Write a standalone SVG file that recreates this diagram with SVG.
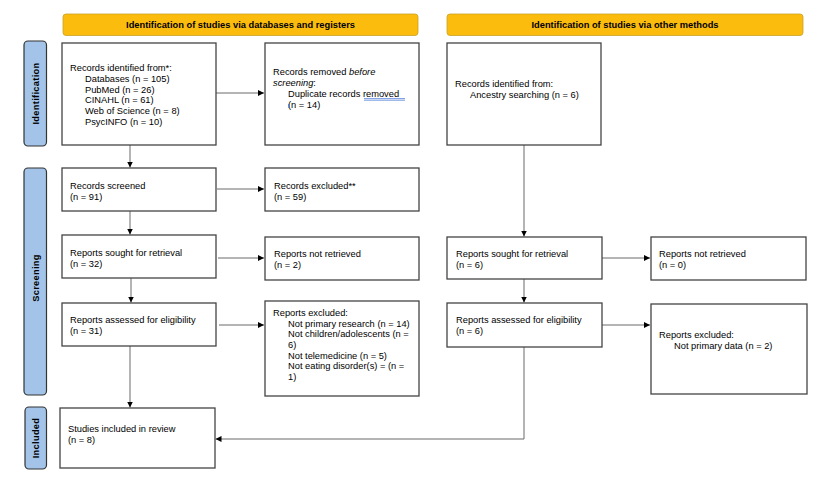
<svg xmlns="http://www.w3.org/2000/svg" width="821" height="487" viewBox="0 0 821 487">
<style>
text{font-family:"Liberation Sans",Arial,sans-serif;font-size:9.3px;fill:#000}
.b{font-weight:bold}
.box{fill:#fff;stroke:#444;stroke-width:1.3}
.ban{fill:#fbbc0d;stroke:#c9a227;stroke-width:0.8}
.side{fill:#a3c4e8;stroke:#333;stroke-width:1.2}
.c{fill:none;stroke:#6a6a6a;stroke-width:1}
</style>
<defs>
<marker id="ah" viewBox="0 0 10 10" refX="10" refY="5" markerWidth="6" markerHeight="6" orient="auto" markerUnits="userSpaceOnUse">
<path d="M0,0 L10,5 L0,10 z" fill="#000"/>
</marker>
</defs>

<g id="banner-db"><rect class="ban" x="63" y="14" width="355" height="21.5" rx="3"/><text class="b" x="240.5" y="28.3" text-anchor="middle">Identification of studies via databases and registers</text></g>
<g id="banner-other"><rect class="ban" x="447" y="14" width="356" height="21.5" rx="3"/><text class="b" x="625" y="28.3" text-anchor="middle">Identification of studies via other methods</text></g>

<g id="side-identification"><rect class="side" x="24" y="41" width="22.5" height="105" rx="4"/><text class="b" transform="translate(38.5,93.5) rotate(-90)" text-anchor="middle" letter-spacing="0.3">Identification</text></g>
<g id="side-screening"><rect class="side" x="24" y="168" width="22.5" height="227" rx="4"/><text class="b" transform="translate(38.5,278) rotate(-90)" text-anchor="middle" letter-spacing="0.3">Screening</text></g>
<g id="side-included"><rect class="side" x="25" y="407" width="21.5" height="62" rx="4"/><text class="b" transform="translate(38.5,438) rotate(-90)" text-anchor="middle" letter-spacing="0.3">Included</text></g>

<g id="connectors">
<line class="c" x1="130" y1="145" x2="130" y2="167.5" marker-end="url(#ah)"/>
<line class="c" x1="216" y1="93" x2="264" y2="93" marker-end="url(#ah)"/>
<line class="c" x1="217" y1="189" x2="264" y2="189" marker-end="url(#ah)"/>
<line class="c" x1="130" y1="211" x2="130" y2="234.5" marker-end="url(#ah)"/>
<line class="c" x1="218" y1="258" x2="264" y2="258" marker-end="url(#ah)"/>
<line class="c" x1="131" y1="278" x2="131" y2="302.5" marker-end="url(#ah)"/>
<line class="c" x1="219" y1="325" x2="264" y2="325" marker-end="url(#ah)"/>
<line class="c" x1="130" y1="346" x2="130" y2="407.5" marker-end="url(#ah)"/>
<line class="c" x1="524" y1="145" x2="524" y2="236.5" marker-end="url(#ah)"/>
<line class="c" x1="602" y1="258" x2="650" y2="258" marker-end="url(#ah)"/>
<line class="c" x1="524" y1="279" x2="524" y2="302.5" marker-end="url(#ah)"/>
<line class="c" x1="602" y1="325" x2="650" y2="325" marker-end="url(#ah)"/>
<polyline class="c" points="524,347 524,439 215.5,439" marker-end="url(#ah)"/>
</g>

<g id="records-identified"><rect class="box" x="62" y="43" width="154" height="102"/>
<text x="70" y="70.5">Records identified from*:</text>
<text x="85" y="81.5">Databases (n = 105)</text>
<text x="85" y="92.5">PubMed (n = 26)</text>
<text x="85" y="103">CINAHL (n = 61)</text>
<text x="85" y="114">Web of Science (n = 8)</text>
<text x="85" y="124.5">PsycINFO (n = 10)</text></g>

<g id="records-removed"><rect class="box" x="265" y="43" width="154" height="102"/>
<text x="273" y="75">Records removed <tspan font-style="italic">before</tspan></text>
<text x="273" y="86"><tspan font-style="italic">screening</tspan>:</text>
<text x="288" y="97">Duplicate records removed</text>
<text x="288" y="108">(n = 14)</text>
<path d="M364,98.6 L405,98.6 M364,100.2 L405,100.2" stroke="#3b6fd6" stroke-width="0.7" fill="none"/>
<path d="M289,104 L289,108" stroke="#3b6fd6" stroke-width="1.2"/></g>

<g id="other-identified"><rect class="box" x="447" y="43" width="154" height="102"/>
<text x="455" y="86.5">Records identified from:</text>
<text x="470" y="97.5">Ancestry searching (n = 6)</text></g>

<g id="records-screened"><rect class="box" x="62" y="168" width="154" height="43"/>
<text x="70" y="188.5">Records screened</text><text x="70" y="199.5">(n = 91)</text></g>

<g id="records-excluded"><rect class="box" x="265" y="168" width="154" height="43"/>
<text x="274" y="188.5">Records excluded**</text><text x="274" y="199.5">(n = 59)</text></g>

<g id="reports-sought"><rect class="box" x="62" y="235" width="154" height="43"/>
<text x="70" y="256">Reports sought for retrieval</text><text x="70" y="267">(n = 32)</text></g>

<g id="reports-not-retrieved"><rect class="box" x="265" y="237" width="154" height="43"/>
<text x="274" y="257">Reports not retrieved</text><text x="274" y="268">(n = 2)</text></g>

<g id="other-sought"><rect class="box" x="447" y="237" width="155" height="42"/>
<text x="456" y="256.5">Reports sought for retrieval</text><text x="456" y="267.5">(n = 6)</text></g>

<g id="other-not-retrieved"><rect class="box" x="651" y="237" width="155" height="43"/>
<text x="659" y="257">Reports not retrieved</text><text x="659" y="268">(n = 0)</text></g>

<g id="reports-assessed"><rect class="box" x="62" y="303" width="154" height="43"/>
<text x="70" y="322.5">Reports assessed for eligibility</text><text x="70" y="333.5">(n = 31)</text></g>

<g id="reports-excluded"><rect class="box" x="265" y="301" width="154" height="95"/>
<text x="273" y="315.5">Reports excluded:</text>
<text x="288" y="326.5">Not primary research (n = 14)</text>
<text x="288" y="337">Not children/adolescents (n =</text>
<text x="288" y="347.5">6)</text>
<text x="288" y="358.5">Not telemedicine (n = 5)</text>
<text x="288" y="369">Not eating disorder(s) = (n =</text>
<text x="288" y="380">1)</text></g>

<g id="other-assessed"><rect class="box" x="447" y="303" width="155" height="44"/>
<text x="456" y="323">Reports assessed for eligibility</text><text x="456" y="334">(n = 6)</text></g>

<g id="other-excluded"><rect class="box" x="651" y="304" width="156" height="90"/>
<text x="659" y="338">Reports excluded:</text>
<text x="674" y="349">Not primary data (n = 2)</text></g>

<g id="studies-included"><rect class="box" x="60" y="408" width="155" height="60"/>
<text x="68" y="431.5">Studies included in review</text><text x="68" y="442.5">(n = 8)</text></g>
</svg>
